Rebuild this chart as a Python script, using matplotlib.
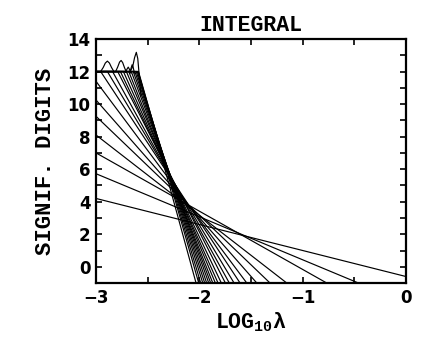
import numpy as np
import matplotlib
matplotlib.use("Agg")
import matplotlib.pyplot as plt
from matplotlib.ticker import MultipleLocator

# --- Data ---
# steep lines: x where they leave the y=12 plateau, x where they hit y=-1
steep_x_top = [-2.592, -2.589, -2.594, -2.601, -2.611, -2.624, -2.640, -2.659,
               -2.683, -2.706, -2.735, -2.764, -2.790, -2.840, -2.890, -2.955]
steep_x_bot = [-2.032, -2.006, -1.987, -1.967, -1.948, -1.929, -1.909, -1.890,
               -1.870, -1.845, -1.819, -1.787, -1.748, -1.710, -1.664, -1.606]

# shallow lines: value at x=-3, and the end point (x, y)
shallow_y_left = [11.4, 10.25, 9.25, 8.1, 7.0, 5.72, 4.2]
shallow_x_end = [-1.541, -1.444, -1.316, -1.154, -0.767, -0.46, 0.0]
shallow_y_end = [-1.0, -1.0, -1.0, -1.0, -1.0, -1.0, -0.6]

# oscillation bumps on top of the plateau
bump_x = [
    [-2.955, -2.93, -2.91, -2.89, -2.87, -2.85, -2.825],
    [-2.81, -2.79, -2.772, -2.757, -2.742, -2.725, -2.705],
    [-2.715, -2.70, -2.688, -2.675, -2.662],
    [-2.67, -2.66, -2.65, -2.64, -2.628],
    [-2.67, -2.645, -2.627, -2.61, -2.596, -2.585, -2.575, -2.565],
]
bump_y = [
    [12.0, 12.25, 12.52, 12.64, 12.52, 12.25, 11.98],
    [12.0, 12.28, 12.58, 12.68, 12.55, 12.25, 11.95],
    [11.95, 12.15, 12.27, 12.12, 11.9],
    [11.95, 12.22, 12.42, 12.25, 11.9],
    [12.0, 12.3, 12.85, 13.18, 12.8, 12.0, 11.2, 10.5],
]
PLATEAU = 12.0

plt.rcParams["font.family"] = ["Liberation Mono", "DejaVu Sans"]
plt.rcParams["mathtext.fontset"] = "custom"
plt.rcParams["mathtext.rm"] = "Liberation Mono:bold"

fig = plt.figure(figsize=(4.43, 3.39), dpi=100)
ax = fig.add_axes([0.2167, 0.165, 0.70, 0.72])

x = np.linspace(-3, 0, 1201)
for xt, xb in zip(steep_x_top, steep_x_bot):
    y = np.interp(x, [xt, xb], [PLATEAU, -1.0])
    y = np.where(x < xt, PLATEAU, np.where(x > xb, -1.0 - (x - xb) * 13 / (xb - xt), y))
    ax.plot(x, y, color="black", lw=0.85)

for yl, xe, ye in zip(shallow_y_left, shallow_x_end, shallow_y_end):
    ax.plot([-3, xe], [yl, ye], color="black", lw=0.85)

for bx, by in zip(bump_x, bump_y):
    ax.plot(bx, by, color="black", lw=0.85)

ax.set_xlim(-3, 0)
ax.set_ylim(-1, 14)
ax.xaxis.set_major_locator(MultipleLocator(1))
ax.xaxis.set_minor_locator(MultipleLocator(0.5))
ax.yaxis.set_major_locator(MultipleLocator(2))
ax.yaxis.set_minor_locator(MultipleLocator(1))
ax.tick_params(which="both", direction="in", top=True, right=True,
               width=1.2, length=4)
ax.tick_params(which="major", pad=4)
for lab in ax.get_xticklabels() + ax.get_yticklabels():
    lab.set_family("DejaVu Sans")
    lab.set_fontweight("bold")
    lab.set_fontsize(12)
for sp in ax.spines.values():
    sp.set_linewidth(1.6)

ax.set_title("INTEGRAL", fontsize=15.5, fontweight="bold", pad=6)
ax.set_ylabel("SIGNIF. DIGITS", fontsize=16, fontweight="bold", labelpad=8)
ax.set_xlabel(r"LOG$_{10}$λ", fontsize=15.5, fontweight="bold", labelpad=3)

fig.savefig("out.png", dpi=100)
